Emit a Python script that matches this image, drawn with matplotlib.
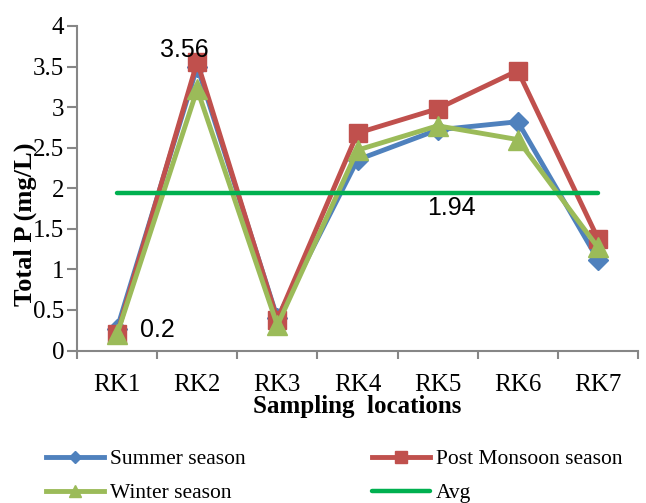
import matplotlib.pyplot as plt
import numpy as np

# Data
locations = ['RK1', 'RK2', 'RK3', 'RK4', 'RK5', 'RK6', 'RK7']
summer = [0.27, 3.50, 0.40, 2.35, 2.72, 2.82, 1.12]
post_monsoon = [0.20, 3.56, 0.38, 2.68, 2.98, 3.45, 1.38]
winter = [0.20, 3.22, 0.31, 2.47, 2.77, 2.60, 1.27]
avg = 1.94
y_ticks = [0, 0.5, 1, 1.5, 2, 2.5, 3, 3.5, 4]
y_tick_labels = ['0', '0.5', '1', '1.5', '2', '2.5', '3', '3.5', '4']

serif = 'Liberation Serif'
sans = 'Liberation Sans'
axis_grey = '#868686'

fig = plt.figure(figsize=(6.46, 5.03), dpi=100)
ax = fig.add_axes([77 / 646, 1 - 350.5 / 503, 561 / 646, 324.5 / 503])

x = np.arange(len(locations))

l1, = ax.plot(x, summer, color='#4F81BD', lw=3.5, marker='D', ms=10,
              label='Summer season')
l2, = ax.plot(x, post_monsoon, color='#C0504D', lw=3.5, marker='s', ms=13,
              label='Post Monsoon season')
l3, = ax.plot(x, winter, color='#9BBB59', lw=3.5, marker='^', ms=14,
              label='Winter season')
l4, = ax.plot([x[0], x[-1]], [avg, avg], color='#00B050', lw=3.2,
              solid_capstyle='round', label='Avg')

# data labels
ax.text(1 - 0.16, 3.70, '3.56', fontsize=18, family=sans, ha='center', va='center')
ax.text(0.29, 0.25, '0.2', fontsize=18, family=sans, ha='left', va='center')
ax.text(4.17, 1.76, '1.94', fontsize=18, family=sans, ha='center', va='center')

ax.set_xlim(-0.5, 6.5)
ax.set_ylim(0, 4)
ax.set_yticks(y_ticks)
ax.set_yticklabels(y_tick_labels, fontsize=18, family=serif)
ax.set_xticks(x)
ax.set_xticklabels(locations, fontsize=18, family=serif)
ax.set_xticks(np.arange(-0.5, 7, 1), minor=True)
ax.tick_params(axis='x', which='major', length=0, pad=17)
ax.tick_params(axis='x', which='minor', length=6, width=1.5, color=axis_grey, direction='out')
ax.tick_params(axis='y', length=7, width=1.5, color=axis_grey, direction='out', pad=2)

for side in ['top', 'right']:
    ax.spines[side].set_visible(False)
for side in ['left', 'bottom']:
    ax.spines[side].set_color(axis_grey)
    ax.spines[side].set_linewidth(1.5)

ax.set_xlabel('Sampling  locations', fontsize=18, family=serif, fontweight='bold')
ax.xaxis.set_label_coords(0.5, (350.5 - 406) / 324.5)
ax.xaxis.label.set_va('center')
ax.set_ylabel('Total P (mg/L)', fontsize=19, family=serif, fontweight='bold')
ax.yaxis.set_label_coords((25 - 77) / 561, (350.5 - 224) / 324.5)
ax.yaxis.label.set_va('center')

fig.legend([l1, l3, l2, l4],
           ['Summer season', 'Winter season', 'Post Monsoon season', 'Avg'],
           ncol=2, frameon=False, loc='upper left',
           bbox_to_anchor=(46 / 646, 1 - 449 / 503),
           prop={'family': serif, 'size': 15.5}, markerscale=0.65,
           handlelength=2.7, handletextpad=0.25, columnspacing=5.9,
           labelspacing=0.65, borderpad=0, borderaxespad=0)

fig.savefig('out.png', dpi=100)
